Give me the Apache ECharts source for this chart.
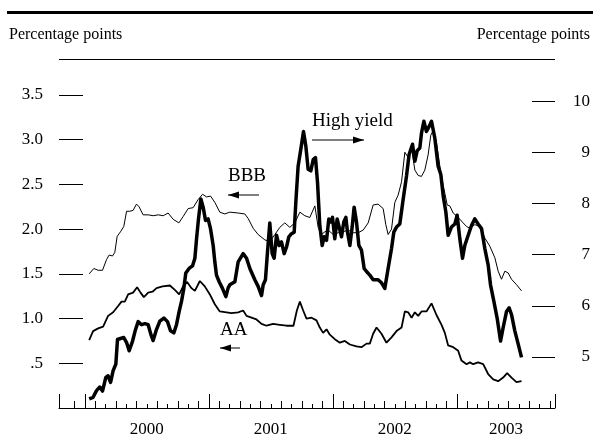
<!DOCTYPE html>
<html>
<head>
<meta charset="utf-8">
<script src="https://cdn.jsdelivr.net/npm/echarts@6/dist/echarts.min.js"></script>
<style>
  html, body { margin: 0; padding: 0; background: #fff; }
  #chart { width: 593px; height: 438px; }
</style>
</head>
<body>
<div id="chart"></div>
<script>
// Time is measured in months from January 2000; spreads are in percentage points.
const bbb = [[0.42,1.50],[0.87,1.56],[1.29,1.54],[1.71,1.54],[2.10,1.66],[2.35,1.71],[2.68,1.70],[2.90,1.74],[3.13,1.92],[3.45,1.97],[3.77,2.03],[4.04,2.20],[4.35,2.20],[4.67,2.21],[5.00,2.28],[5.25,2.25],[5.64,2.16],[6.13,2.16],[6.61,2.15],[7.09,2.16],[7.58,2.15],[8.06,2.18],[8.55,2.11],[9.10,2.07],[9.51,2.14],[10.00,2.23],[10.48,2.24],[10.96,2.33],[11.39,2.39],[11.78,2.36],[12.16,2.37],[12.58,2.30],[13.06,2.19],[13.55,2.17],[14.03,2.19],[14.84,2.18],[15.48,2.17],[15.80,2.12],[16.29,2.01],[16.77,1.94],[17.42,1.88],[17.90,1.86],[18.39,1.94],[18.87,2.02],[19.35,2.07],[19.84,2.02],[20.32,2.07],[20.81,2.19],[21.29,2.15],[21.77,2.13],[22.26,2.26],[22.58,2.02],[22.90,1.94],[23.23,1.97],[23.55,1.99],[24.03,1.94],[24.52,1.96],[25.00,1.97],[25.48,1.99],[25.97,1.96],[26.45,1.96],[26.94,1.99],[27.42,2.07],[27.90,2.27],[28.38,2.28],[28.87,2.23],[29.13,2.05],[29.35,1.94],[29.68,2.00],[30.00,2.30],[30.32,2.38],[30.65,2.53],[30.97,2.86],[31.29,2.80],[31.62,2.90],[31.94,2.66],[32.26,2.60],[32.58,2.59],[32.90,2.66],[33.22,2.83],[33.48,3.05],[33.70,3.10],[34.03,2.97],[34.35,2.71],[34.68,2.49],[35.07,2.27],[35.32,2.26],[35.65,2.18],[36.13,2.13],[36.61,2.07],[36.94,2.03],[37.26,2.01],[37.74,2.05],[38.23,2.03],[38.71,1.90],[39.19,1.81],[39.68,1.68],[40.00,1.53],[40.32,1.44],[40.65,1.53],[40.97,1.51],[41.29,1.44],[41.77,1.38],[42.26,1.31]];

const aa = [[0.42,0.76],[0.80,0.86],[1.29,0.89],[1.77,0.91],[2.25,1.03],[2.74,1.07],[3.22,1.14],[3.55,1.19],[3.87,1.19],[4.19,1.27],[4.67,1.29],[5.06,1.35],[5.39,1.29],[5.71,1.24],[6.13,1.29],[6.55,1.30],[6.94,1.34],[7.52,1.36],[8.23,1.37],[8.71,1.32],[9.13,1.27],[9.51,1.36],[9.90,1.41],[10.32,1.34],[10.65,1.31],[11.13,1.42],[11.61,1.36],[12.10,1.27],[12.58,1.16],[13.06,1.08],[13.71,1.07],[14.19,1.06],[14.84,1.07],[15.32,1.09],[15.65,1.03],[16.13,1.01],[16.61,0.99],[17.10,0.94],[17.58,0.92],[18.22,0.94],[18.87,0.93],[19.52,0.92],[20.19,0.92],[20.52,1.09],[20.81,1.19],[21.13,1.09],[21.45,1.00],[21.94,1.01],[22.42,0.98],[22.74,0.90],[23.06,0.84],[23.39,0.88],[23.71,0.82],[24.19,0.77],[24.68,0.73],[25.16,0.75],[25.65,0.71],[26.29,0.69],[26.77,0.68],[27.26,0.72],[27.58,0.72],[27.90,0.83],[28.23,0.90],[28.71,0.83],[29.19,0.73],[29.68,0.79],[30.16,0.86],[30.65,0.90],[30.97,1.08],[31.29,1.07],[31.62,1.01],[31.94,1.07],[32.26,1.03],[32.58,1.08],[33.06,1.08],[33.55,1.17],[34.03,1.04],[34.52,0.93],[34.84,0.84],[35.16,0.70],[35.65,0.68],[36.13,0.64],[36.45,0.53],[36.94,0.49],[37.26,0.51],[37.58,0.49],[38.06,0.51],[38.55,0.49],[39.03,0.38],[39.52,0.32],[40.00,0.30],[40.48,0.34],[40.87,0.39],[41.29,0.34],[41.77,0.29],[42.26,0.30]];

const highYield = [[0.42,4.18],[0.80,4.21],[1.13,4.34],[1.45,4.41],[1.71,4.33],[2.03,4.60],[2.25,4.63],[2.49,4.50],[2.74,4.73],[3.00,4.86],[3.16,5.34],[3.45,5.36],[3.77,5.38],[4.04,5.28],[4.29,5.12],[4.62,5.31],[4.87,5.51],[5.16,5.69],[5.49,5.63],[5.81,5.65],[6.13,5.63],[6.39,5.44],[6.61,5.32],[6.94,5.54],[7.26,5.70],[7.65,5.76],[8.00,5.69],[8.29,5.51],[8.61,5.47],[8.87,5.63],[9.13,5.89],[9.36,6.09],[9.58,6.34],[9.77,6.64],[10.09,6.73],[10.42,6.78],[10.65,6.93],[10.81,7.31],[11.00,7.70],[11.23,8.09],[11.45,7.93],[11.68,7.67],[11.93,7.70],[12.16,7.51],[12.42,7.18],[12.58,6.86],[12.74,6.60],[13.00,6.47],[13.32,6.34],[13.65,6.18],[13.87,6.35],[14.03,6.41],[14.52,6.47],[14.84,6.86],[15.32,7.02],[15.65,6.93],[15.97,6.73],[16.45,6.51],[16.77,6.38],[17.10,6.20],[17.26,6.41],[17.48,6.51],[17.68,7.06],[17.90,7.62],[18.13,7.02],[18.32,6.93],[18.55,7.38],[18.80,7.18],[19.03,7.25],[19.29,7.02],[19.52,7.15],[19.74,7.35],[20.00,7.41],[20.26,7.44],[20.42,8.03],[20.64,8.73],[20.90,9.06],[21.16,9.41],[21.39,9.12],[21.61,8.67],[21.87,8.64],[22.10,8.86],[22.32,8.90],[22.52,8.41],[22.74,7.57],[22.97,7.18],[23.16,7.35],[23.39,7.28],[23.61,7.70],[23.81,7.64],[23.97,7.73],[24.19,7.31],[24.42,7.70],[24.61,7.73],[24.84,7.35],[25.06,7.64],[25.26,7.73],[25.42,7.44],[25.65,7.18],[25.87,7.54],[26.06,7.93],[26.29,7.64],[26.52,7.18],[26.77,7.09],[27.03,6.73],[27.26,6.67],[27.58,6.60],[27.90,6.51],[28.38,6.51],[28.71,6.45],[29.03,6.34],[29.35,6.73],[29.68,7.12],[29.90,7.44],[30.16,7.54],[30.48,7.60],[30.81,8.09],[31.13,8.54],[31.38,8.96],[31.71,9.16],[31.94,8.83],[32.16,9.03],[32.42,9.09],[32.58,9.38],[32.81,9.61],[33.06,9.41],[33.32,9.51],[33.55,9.61],[33.87,9.28],[34.19,8.73],[34.45,8.57],[34.68,8.15],[34.94,7.83],[35.16,7.38],[35.48,7.54],[35.81,7.60],[36.03,7.77],[36.29,7.31],[36.55,6.93],[36.77,7.18],[37.10,7.38],[37.42,7.57],[37.74,7.70],[38.06,7.60],[38.39,7.51],[38.71,7.12],[39.03,6.80],[39.26,6.41],[39.58,6.09],[39.90,5.76],[40.23,5.31],[40.48,5.57],[40.81,5.89],[41.06,5.96],[41.29,5.83],[41.61,5.51],[41.94,5.25],[42.26,4.99]];

// Axis ticks and labels
const leftTicks = [0.5, 1.0, 1.5, 2.0, 2.5, 3.0, 3.5];
const rightTicks = [5, 6, 7, 8, 9, 10];
const years = ['2000', '2001', '2002', '2003'];
const yearStarts = [0, 12, 24, 36];
const axisStart = -2.5, axisEnd = 45.5;

const FONT = 'Liberation Serif';
const INK = '#000';

const yearLabelPos = yearStarts.map(s => (Math.max(s, axisStart) + Math.min(s + 12, axisEnd)) / 2);
const yearTickPos = [axisStart].concat(yearStarts, [axisEnd]);
// monthly ticks, alternating two lengths; none right next to the left end
const monthMid = [], monthShort = [];
for (let m = Math.ceil(axisStart + 0.6); m <= axisEnd; m++) {
  if (yearStarts.includes(m)) continue;
  const k = ((m % 12) + 12) % 12;
  (k % 2 === 1 ? monthMid : monthShort).push(m);
}

function xAxisBase(extra) {
  return Object.assign({
    type: 'value', min: axisStart, max: axisEnd, position: 'bottom',
    splitLine: { show: false },
    axisLine: { show: false, onZero: false },
    axisLabel: { show: false },
    axisTick: { show: false }
  }, extra);
}

const chart = echarts.init(document.getElementById('chart'), null, { renderer: 'canvas' });

function arrow(x1, x2, y, headLeft) {
  const hx = headLeft ? x1 : x2;
  const dir = headLeft ? 1 : -1;
  return [
    { type: 'line', shape: { x1: x1, y1: y, x2: x2, y2: y }, style: { stroke: INK, lineWidth: 1 } },
    { type: 'polygon', shape: { points: [[hx, y], [hx + dir * 11, y - 3.5], [hx + dir * 11, y + 3.5]] }, style: { fill: INK } }
  ];
}

function label(text, x, y, align, size) {
  return { type: 'text', x: x, y: y, style: { text: text, fill: INK, font: (size || 16) + 'px "' + FONT + '"', textAlign: align || 'left', textVerticalAlign: 'middle' } };
}

const tickLine = { color: INK, width: 1 };
const axisText = { color: INK, fontFamily: FONT, fontSize: 17 };

chart.setOption({
  animation: false,
  backgroundColor: '#fff',
  grid: { left: 59, right: 38, top: 95, bottom: 27, containLabel: false },
  xAxis: [
    xAxisBase({
      axisLine: { show: true, onZero: false, lineStyle: tickLine },
      axisTick: { show: true, inside: true, length: 14, customValues: yearTickPos, lineStyle: tickLine },
      axisLabel: Object.assign({
        show: true, customValues: yearLabelPos, margin: 13,
        formatter: v => years[Math.min(3, Math.floor(Math.max(v, 0) / 12))]
      }, axisText)
    }),
    xAxisBase({ axisTick: { show: true, inside: true, length: 7, customValues: monthMid, lineStyle: tickLine } }),
    xAxisBase({ axisTick: { show: true, inside: true, length: 4, customValues: monthShort, lineStyle: tickLine } })
  ],
  yAxis: [
    {
      type: 'value', position: 'left', min: 0, max: 3.5,
      splitLine: { show: false }, axisLine: { show: false, onZero: false },
      axisTick: { show: true, inside: true, length: 24, customValues: leftTicks, lineStyle: tickLine },
      axisLabel: Object.assign({ customValues: leftTicks, margin: 16,
        formatter: v => (v < 1 ? '.5' : v.toFixed(1)) }, axisText)
    },
    {
      type: 'value', position: 'right', min: 4, max: 10.124,
      splitLine: { show: false }, axisLine: { show: false, onZero: false },
      axisTick: { show: true, inside: true, length: 23, customValues: rightTicks, lineStyle: tickLine },
      axisLabel: Object.assign({ customValues: rightTicks, margin: 35, align: 'right',
        formatter: v => String(v) }, axisText)
    }
  ],
  series: [
    { name: 'BBB', type: 'line', data: bbb, yAxisIndex: 0, showSymbol: false, silent: true,
      lineStyle: { color: INK, width: 1 } },
    { name: 'AA', type: 'line', data: aa, yAxisIndex: 0, showSymbol: false, silent: true,
      lineStyle: { color: INK, width: 1.8 } },
    { name: 'High yield', type: 'line', data: highYield, yAxisIndex: 1, showSymbol: false, silent: true,
      lineStyle: { color: INK, width: 3.5, join: 'round' } }
  ],
  graphic: [
    { type: 'rect', shape: { x: 7, y: 11, width: 586, height: 3 }, style: { fill: INK } },
    label('Percentage points', 9, 35, 'left', 16),
    label('Percentage points', 590, 35, 'right', 16),
    { type: 'line', shape: { x1: 59, y1: 59.5, x2: 555, y2: 59.5 }, style: { stroke: INK, lineWidth: 1 } },
    label('BBB', 228, 176, 'left', 19),
    label('High yield', 312, 121, 'left', 19),
    label('AA', 220, 330, 'left', 19)
  ].concat(arrow(228, 259, 195, true), arrow(312, 364, 140, false), arrow(220, 240, 348, true))
});
</script>
</body>
</html>
